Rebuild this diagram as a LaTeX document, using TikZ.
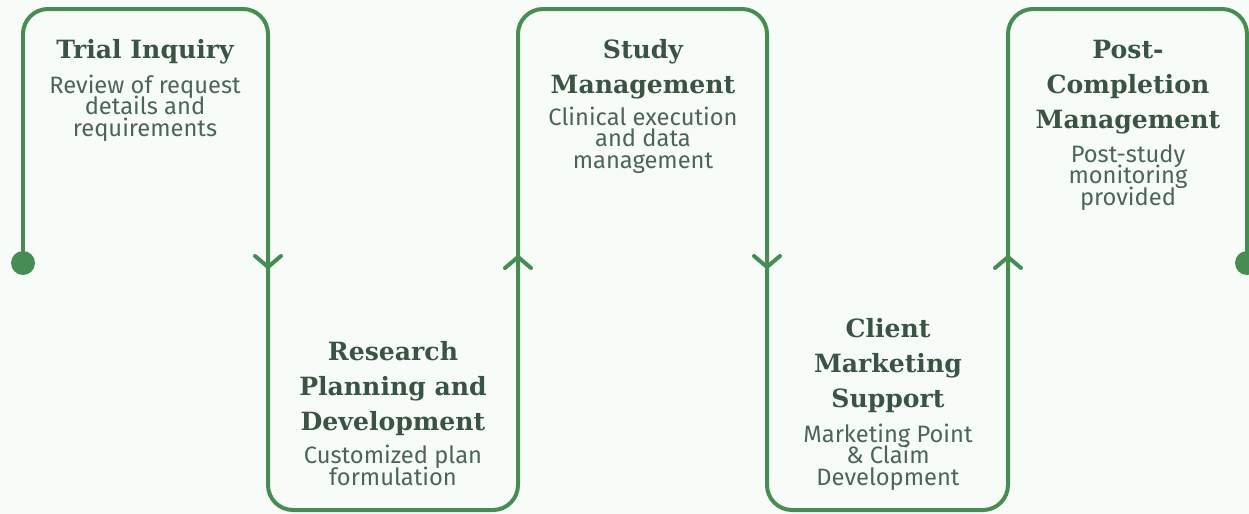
\documentclass[tikz,border=0pt]{standalone}
\usepackage{fontspec}
\usepackage{xcolor}
\newfontfamily\bodyfont{Fira Sans}
\newfontfamily\titlefont{DejaVu Serif}
\newcommand\descfont{\bodyfont\fontsize{13.5}{12.1}\selectfont\lineskiplimit-20pt\relax}
\definecolor{green}{HTML}{478D53}
\definecolor{darkgreen}{HTML}{3A5444}
\definecolor{bodygreen}{HTML}{4B6656}
\definecolor{paper}{HTML}{F8FCF8}
\tikzset{
  title/.style={text=darkgreen, font=\titlefont\bfseries\fontsize{14.3}{19.85}\selectfont,
    align=center, anchor=base, inner sep=0pt},
  desc/.style={text=bodygreen, font=\descfont,
    align=center, anchor=base, inner sep=0pt},
  track/.style={draw=green, line width=0.08cm, rounded corners=0.5cm},
  chev/.style={draw=green, line width=0.08cm, line cap=round, line join=round}
}

\begin{document}
\begin{tikzpicture}[x=0.02cm, y=-0.02cm]

    \fill[paper] (0,0) rectangle (1249,514);
    \useasboundingbox (0,0) rectangle (1249,514);

    % corners of the track
    \coordinate (p0) at (23,263);
    \coordinate (p1) at (23,9);
    \coordinate (p2) at (268,9);
    \coordinate (p3) at (268,510);
    \coordinate (p4) at (518,510);
    \coordinate (p5) at (518,9);
    \coordinate (p6) at (767,9);
    \coordinate (p7) at (767,510);
    \coordinate (p8) at (1008,510);
    \coordinate (p9) at (1008,9);
    \coordinate (p10) at (1247,9);
    \coordinate (p11) at (1247,263);

    \draw[track] (p0) -- (p1) -- (p2) -- (p3) -- (p4) -- (p5) -- (p6)
      -- (p7) -- (p8) -- (p9) -- (p10) -- (p11);

    \fill[green] (p0) circle (12);
    \fill[green] (p11) circle (12);

    % chevrons
    \coordinate (a1) at (268,267);
    \coordinate (a2) at (518,257);
    \coordinate (a3) at (767,267);
    \coordinate (a4) at (1008,257);
    \draw[chev] (a1) ++(-13,-11) -- (a1) -- ++(13,-11);
    \draw[chev] (a2) ++(-13,11) -- (a2) -- ++(13,11);
    \draw[chev] (a3) ++(-13,-11) -- (a3) -- ++(13,-11);
    \draw[chev] (a4) ++(-13,11) -- (a4) -- ++(13,11);

    % stages (base = last line)
    \node[title] (inquiry) at (145,58) {Trial Inquiry};
    \node[desc] (inquiryd) at (145,136) {Review of request\\details and\\requirements};

    \node[title] (research) at (393,430) {Research\\Planning and\\Development};
    \node[desc] (researchd) at (393,485) {Customized plan\\formulation};

    \node[title] (study) at (643,93) {Study\\Management};
    \node[desc] (studyd) at (643,168) {Clinical execution\\and data\\management};

    \node[title] (client) at (888,407) {Client\\Marketing\\Support};
    \node[desc] (clientd) at (888,485) {Marketing Point\\\& Claim\\Development};

    \node[title] (post) at (1128,128) {Post-\\Completion\\Management};
    \node[desc] (postd) at (1128,205) {Post-study\\monitoring\\provided};
  \end{tikzpicture}
\end{document}
